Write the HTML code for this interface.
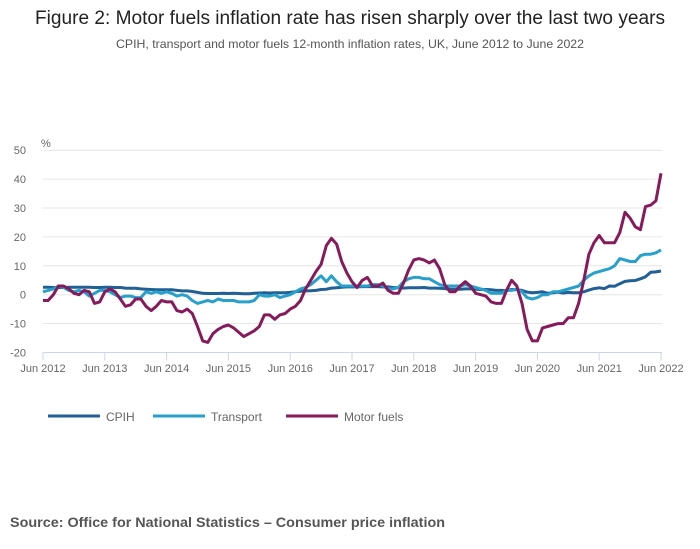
<!DOCTYPE html>
<html><head><meta charset="utf-8"><style>
html,body{margin:0;padding:0;background:#fff;}
svg{display:block;font-family:"Liberation Sans",sans-serif;}
</style></head><body>
<svg id="chart" width="700" height="549" viewBox="0 0 700 549">
<text x="350" y="24" text-anchor="middle" font-size="19" fill="#222" textLength="630" lengthAdjust="spacingAndGlyphs">Figure 2: Motor fuels inflation rate has risen sharply over the last two years</text>
<text x="350" y="48" text-anchor="middle" font-size="12" fill="#555" textLength="468" lengthAdjust="spacingAndGlyphs">CPIH, transport and motor fuels 12-month inflation rates, UK, June 2012 to June 2022</text>
<text x="41" y="147" font-size="11" fill="#666">%</text>
<g id="grid"></g><g id="xaxis"></g><g id="series"></g>
<g>
<g><line x1="48" y1="416" x2="100" y2="416" stroke="#206095" stroke-width="3"/><text x="106" y="421" font-size="12" fill="#666">CPIH</text></g>
<g><line x1="153" y1="416" x2="205" y2="416" stroke="#27a0cc" stroke-width="3"/><text x="211" y="421" font-size="12" fill="#666">Transport</text></g>
<g><line x1="286" y1="416" x2="338" y2="416" stroke="#871a5b" stroke-width="3"/><text x="344" y="421" font-size="12" fill="#666">Motor fuels</text></g>
</g>
<text x="10" y="527" font-size="14" font-weight="bold" fill="#555" textLength="435" lengthAdjust="spacingAndGlyphs">Source: Office for National Statistics – Consumer price inflation</text>
</svg>
<script>
const yTicks=[50,40,30,20,10,0,-10,-20];
const xTickLabels=["Jun 2012","Jun 2013","Jun 2014","Jun 2015","Jun 2016","Jun 2017","Jun 2018","Jun 2019","Jun 2020","Jun 2021","Jun 2022"];
const motorFuels=[-2,-2,0,3,3,2,0.5,
0,1.5,1,-3,-2.5,1,2,1,-1.5,-4,-3.5,-1.5,
-1.5,-4,-5.5,-4,-2,-2.5,-2.5,-5.5,-6,-5,-6.5,-11,
-16,-16.5,-13.5,-12,-11,-10.5,-11.5,-13,-14.5,-13.5,-12.5,-11,
-7,-7,-8.5,-7,-6.5,-5,-4,-2,2,5,8,10.5,
17,19.5,17.5,11.5,7.5,4.5,2.5,5,6,3,3,4,
1.5,0.5,0.5,4,8.5,12,12.5,12,11,12,9,3.5,
1,1,3,4.5,3,0.5,0,-0.5,-2.5,-3,-3,1.5,
5,3,-3,-12,-16,-16,-11.5,-11,-10.5,-10,-10,-8,
-8,-3,5,14,18,20.5,18,18,18,21.5,28.5,26.5,
23.5,22.5,30.5,31,32.5,42];
const transport=[1,1.5,2,3,2.5,1.5,1,
1.5,1,-0.5,0.5,1.5,1.5,1,0,-1,-0.5,-0.5,-1,
-1,1,0.5,1,0.5,1,0.5,-0.5,0,-0.5,-2,-3,
-2.5,-2,-2.5,-1.5,-2,-2,-2,-2.5,-2.5,-2.5,-2,0,
-0.5,-0.5,0,-1,-0.5,0,1,2,2.5,3.5,5,6.5,
4.5,6.5,4.5,3,3,3,3,3,3,3.5,3.5,3,
2,2,2.5,4.5,5.5,6,6,5.5,5.5,4.5,3.5,3,
3,3,3,3.5,3,2.5,2,1.5,0.5,0.5,0.5,1.5,
1.5,2,1,-1,-1.5,-1,0,0,1,1,1.5,2,
2.5,3,5,6.5,7.5,8,8.5,9,10,12.5,12,11.5,
11.5,13.5,14,14,14.5,15.5];
const cpih=[2.6,2.6,2.5,2.5,2.5,2.6,2.6,
2.6,2.6,2.6,2.5,2.5,2.6,2.6,2.5,2.5,2.3,2.2,2.2,
2,1.9,1.8,1.7,1.7,1.7,1.7,1.5,1.3,1.3,1.1,0.8,
0.5,0.4,0.4,0.4,0.5,0.4,0.5,0.4,0.3,0.3,0.5,0.6,
0.7,0.6,0.7,0.7,0.7,0.8,1,1.2,1.3,1.4,1.5,1.8,
1.9,2.3,2.4,2.6,2.7,2.7,2.7,2.8,2.8,2.8,2.8,2.7,
2.7,2.5,2.4,2.3,2.4,2.4,2.4,2.5,2.3,2.3,2.2,2.1,
1.9,1.9,1.9,2,2,1.9,1.8,1.8,1.7,1.5,1.5,1.4,
1.8,1.7,1.5,0.9,0.7,0.8,1,0.5,0.7,0.9,0.6,0.8,
0.7,0.7,1,1.6,2.1,2.4,2.1,3,2.9,3.8,4.6,4.8,
4.9,5.5,6.2,7.8,7.9,8.2];
const x0=43,x1=661,y0=294.7,pxPerUnit=2.89;
function xS(i){return x0+(x1-x0)*i/120;}
function yS(v){return y0-v*pxPerUnit;}
const NS="http://www.w3.org/2000/svg";
const grid=document.getElementById('grid');
yTicks.forEach(t=>{
  const l=document.createElementNS(NS,'line');
  
  
  l.setAttribute('x1',x0);l.setAttribute('x2',x1+1);
  l.setAttribute('y1',yS(t));l.setAttribute('y2',yS(t));
  l.setAttribute('stroke',t===-20?'#ccd6eb':'#e6e6e6');l.setAttribute('stroke-width',1);
  grid.appendChild(l);
  const tx=document.createElementNS(NS,'text');
  
  
  tx.setAttribute('x',26);tx.setAttribute('y',yS(t)+4);
  tx.setAttribute('text-anchor','end');tx.setAttribute('font-size','11');tx.setAttribute('fill','#666');
  tx.textContent=t;grid.appendChild(tx);
});
const xa=document.getElementById('xaxis');
xTickLabels.forEach((lab,k)=>{
  const x=xS(k*12);
  const l=document.createElementNS(NS,'line');
  
  
  l.setAttribute('x1',x);l.setAttribute('x2',x);l.setAttribute('y1',yS(-20));l.setAttribute('y2',yS(-20)+8);
  l.setAttribute('stroke','#ccd6eb');xa.appendChild(l);
  const tx=document.createElementNS(NS,'text');
  
  
  tx.setAttribute('x',x);tx.setAttribute('y',372);tx.setAttribute('text-anchor','middle');
  tx.setAttribute('font-size','11');tx.setAttribute('fill','#666');
  tx.textContent=lab;xa.appendChild(tx);
});
const sg=document.getElementById('series');
[[cpih,'#206095','cpih-line'],[transport,'#27a0cc','transport-line'],[motorFuels,'#871a5b','motor-fuels-line']].forEach(([d,c,n])=>{
  const p=document.createElementNS(NS,'path');
  
  
  p.setAttribute('d',d.map((v,i)=>(i?'L':'M')+xS(i).toFixed(1)+' '+yS(v).toFixed(1)).join(''));
  p.setAttribute('fill','none');p.setAttribute('stroke',c);p.setAttribute('stroke-width',3);
  p.setAttribute('stroke-linejoin','round');
  sg.appendChild(p);
});
</script>
</body></html>
